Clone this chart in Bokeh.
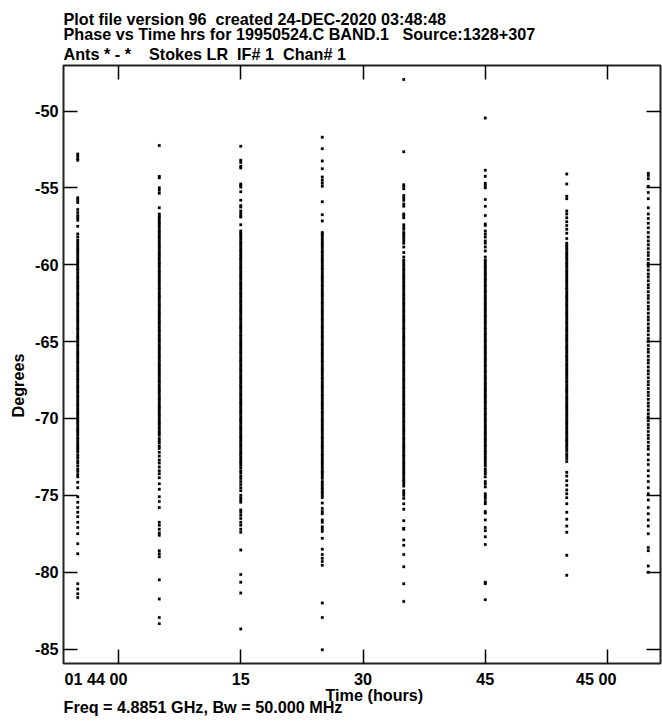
from bokeh.plotting import figure
from bokeh.models import LinearAxis, FixedTicker, Range1d, ColumnDataSource, Title
from bokeh.embed import file_html
from bokeh.resources import INLINE

# ---------------------------------------------------------------------------
# Data: LR phase (degrees) per scan, all baselines; time in seconds after 01:44:00
# ---------------------------------------------------------------------------
scan_times = [-5, 5, 15, 25, 35, 45, 55, 65]

phase_scan1 = [
    -52.8, -52.95, -53.1, -53.2, -55.65, -55.8, -55.95, -56.4, -56.6, -56.8, -56.95, -57.1, -57.5, -58.0, -58.2,
    -58.4, -58.55, -58.7, -58.85, -59.0, -59.1, -59.25, -59.4, -59.55, -59.7, -59.8, -59.95, -60.1, -60.25, -60.35,
    -60.5, -60.65, -60.8, -60.9, -61.05, -61.2, -61.35, -61.45, -61.6, -61.75, -61.9, -62.0, -62.15, -62.3, -62.45,
    -62.55, -62.7, -62.85, -63.0, -63.1, -63.25, -63.4, -63.55, -63.65, -63.8, -63.95, -64.1, -64.2, -64.35, -64.5,
    -64.65, -64.75, -64.9, -65.05, -65.2, -65.3, -65.45, -65.6, -65.75, -65.85, -66.0, -66.15, -66.3, -66.4, -66.55,
    -66.7, -66.85, -66.95, -67.1, -67.25, -67.4, -67.5, -67.65, -67.8, -67.95, -68.05, -68.2, -68.35, -68.5, -68.6,
    -68.75, -68.9, -69.05, -69.15, -69.3, -69.45, -69.6, -69.7, -69.85, -70.0, -70.15, -70.25, -70.4, -70.55, -70.7,
    -70.8, -70.95, -71.1, -71.25, -71.35, -71.5, -71.65, -71.8, -71.9, -72.05, -72.2, -72.4, -72.55, -72.75, -72.9,
    -73.1, -73.3, -73.45, -73.65, -73.8,
    -74.15, -74.5, -75.1, -75.45, -75.8, -76.1, -76.4, -76.75, -77.1, -77.5, -78.15, -78.8,
    -80.75, -81.1, -81.4, -81.65,
]

phase_scan2 = [
    -52.25, -54.25, -54.35, -55.0, -55.15, -55.35, -56.3, -56.7, -56.85, -56.95,
    -57.1, -57.25, -57.35, -57.5, -57.65, -57.8, -57.9, -58.05, -58.2, -58.3, -58.45, -58.6, -58.75, -58.85, -59.0,
    -59.15, -59.3, -59.4, -59.55, -59.7, -59.85, -59.95, -60.1, -60.25, -60.4, -60.5, -60.65, -60.8, -60.95, -61.05,
    -61.2, -61.35, -61.5, -61.6, -61.75, -61.9, -62.05, -62.15, -62.3, -62.45, -62.6, -62.7, -62.85, -63.0, -63.15,
    -63.25, -63.4, -63.55, -63.7, -63.8, -63.95, -64.1, -64.25, -64.35, -64.5, -64.65, -64.8, -64.9, -65.05, -65.2,
    -65.35, -65.45, -65.6, -65.75, -65.9, -66.0, -66.15, -66.3, -66.45, -66.55, -66.7, -66.85, -67.0, -67.1, -67.25,
    -67.4, -67.55, -67.65, -67.8, -67.95, -68.1, -68.2, -68.35, -68.5, -68.65, -68.75, -68.9, -69.05, -69.2, -69.3,
    -69.45, -69.6, -69.75, -69.85, -70.0, -70.15, -70.3, -70.4, -70.55, -70.7, -70.85, -70.95, -71.1, -71.3, -71.45,
    -71.6, -71.8, -71.95,
    -72.2, -72.45, -72.7, -72.9, -73.15, -73.4, -73.6, -73.85, -74.25, -74.6, -75.1, -75.4, -75.8,
    -76.75, -76.95, -77.2, -77.45, -77.6, -78.6, -78.8, -79.0, -80.5, -81.75, -82.95, -83.35,
]

phase_scan3 = [
    -52.3, -53.2, -53.35, -53.6, -53.7, -54.75, -54.85, -54.95, -55.25, -55.8, -56.15, -56.25, -56.5, -56.65, -56.8,
    -56.9, -57.4,
    -57.8, -57.95, -58.05, -58.2, -58.35, -58.5, -58.6, -58.75, -58.9, -59.05, -59.15, -59.3, -59.45, -59.6, -59.7,
    -59.85, -60.0, -60.15, -60.25, -60.4, -60.55, -60.7, -60.8, -60.95, -61.1, -61.25, -61.35, -61.5, -61.65, -61.8,
    -61.9, -62.05, -62.2, -62.35, -62.45, -62.6, -62.75, -62.9, -63.0, -63.15, -63.3, -63.45, -63.55, -63.7, -63.85,
    -64.0, -64.1, -64.25, -64.4, -64.55, -64.65, -64.8, -64.95, -65.1, -65.2, -65.35, -65.5, -65.65, -65.75, -65.9,
    -66.05, -66.2, -66.3, -66.45, -66.6, -66.75, -66.85, -67.0, -67.15, -67.3, -67.4, -67.55, -67.7, -67.85, -67.95,
    -68.1, -68.25, -68.4, -68.5, -68.65, -68.8, -68.95, -69.05, -69.2, -69.35, -69.5, -69.6, -69.75, -69.9, -70.05,
    -70.15, -70.3, -70.45, -70.6, -70.7, -70.85, -71.0, -71.15, -71.25, -71.4, -71.55, -71.7, -71.8, -71.95, -72.1,
    -72.25, -72.35, -72.5, -72.65, -72.8, -72.9, -73.05, -73.2, -73.4, -73.55, -73.75, -73.9, -74.1, -74.3, -74.5,
    -74.7, -75.0, -75.15, -75.3, -75.45, -75.95, -76.1, -76.3, -76.5, -76.75, -76.95, -77.2, -77.4,
    -78.55, -80.15, -80.65, -81.35, -83.7,
]

phase_scan4 = [
    -51.7, -52.45, -53.25, -53.75, -54.3, -54.5, -54.7, -54.9, -55.9, -56.75, -57.15, -57.9,
    -58.0, -58.1, -58.25, -58.4, -58.55, -58.65, -58.8, -58.95, -59.1, -59.2, -59.35, -59.5, -59.65, -59.75, -59.9,
    -60.05, -60.2, -60.3, -60.45, -60.6, -60.75, -60.85, -61.0, -61.15, -61.3, -61.4, -61.55, -61.7, -61.85, -61.95,
    -62.1, -62.25, -62.4, -62.5, -62.65, -62.8, -62.95, -63.05, -63.2, -63.35, -63.5, -63.6, -63.75, -63.9, -64.05,
    -64.15, -64.3, -64.45, -64.6, -64.7, -64.85, -65.0, -65.15, -65.25, -65.4, -65.55, -65.7, -65.8, -65.95, -66.1,
    -66.25, -66.35, -66.5, -66.65, -66.8, -66.9, -67.05, -67.2, -67.35, -67.45, -67.6, -67.75, -67.9, -68.0, -68.15,
    -68.3, -68.45, -68.55, -68.7, -68.85, -69.0, -69.1, -69.25, -69.4, -69.55, -69.65, -69.8, -69.95, -70.1, -70.2,
    -70.35, -70.5, -70.65, -70.75, -70.9, -71.05, -71.2, -71.3, -71.45, -71.6, -71.75, -71.85, -72.0, -72.15, -72.3,
    -72.4, -72.55, -72.7, -72.85, -72.95, -73.1, -73.25, -73.4, -73.5,
    -73.6, -73.75, -73.9, -74.1, -74.2, -74.35, -74.5, -74.6, -74.75, -74.85, -75.0, -75.15, -75.5, -75.85, -76.05,
    -76.2, -76.6, -76.75, -77.05, -77.2, -77.35, -77.8, -78.5, -78.85, -79.1, -79.3, -79.55, -82.0, -82.95, -85.05,
]

phase_scan5 = [
    -47.95, -52.65, -54.8, -54.9, -55.05, -55.5, -55.65, -55.8, -56.05, -56.2, -56.7, -56.8, -56.95, -57.4, -57.55,
    -57.7, -57.9, -58.0, -58.15, -58.3, -58.45, -58.6, -58.85, -59.2, -59.5,
    -59.7, -59.8, -59.95, -60.1, -60.25, -60.35, -60.5, -60.65, -60.8, -60.9, -61.05, -61.2, -61.35, -61.45, -61.6,
    -61.75, -61.9, -62.0, -62.15, -62.3, -62.45, -62.55, -62.7, -62.85, -63.0, -63.1, -63.25, -63.4, -63.55, -63.65,
    -63.8, -63.95, -64.1, -64.2, -64.35, -64.5, -64.65, -64.75, -64.9, -65.05, -65.2, -65.3, -65.45, -65.6, -65.75,
    -65.85, -66.0, -66.15, -66.3, -66.4, -66.55, -66.7, -66.85, -66.95, -67.1, -67.25, -67.4, -67.5, -67.65, -67.8,
    -67.95, -68.05, -68.2, -68.35, -68.5, -68.6, -68.75, -68.9, -69.05, -69.15, -69.3, -69.45, -69.6, -69.7, -69.85,
    -70.0, -70.15, -70.25, -70.4, -70.55, -70.7, -70.8, -70.95, -71.1, -71.25, -71.35, -71.5, -71.65, -71.8, -71.9,
    -72.05, -72.2, -72.35, -72.45, -72.6, -72.75, -72.9, -73.0, -73.15, -73.3, -73.45, -73.55, -73.7, -73.85, -74.0,
    -74.1, -74.25, -74.4,
    -74.7, -74.85, -75.0, -75.2, -75.55, -75.9, -76.65, -77.15, -77.2, -77.9, -78.25, -78.85, -79.65, -80.75, -81.9,
]

phase_scan6 = [
    -50.45, -53.85, -54.25, -54.7, -54.85, -55.0, -55.75, -56.2, -56.8, -57.35, -57.45, -57.8, -58.0, -58.2, -58.45,
    -58.6, -58.85, -59.1, -59.5,
    -59.7, -59.8, -59.95, -60.1, -60.2, -60.35, -60.5, -60.6, -60.75, -60.9, -61.0, -61.15, -61.3, -61.4, -61.55,
    -61.7, -61.8, -61.95, -62.1, -62.2, -62.35, -62.5, -62.6, -62.75, -62.9, -63.0, -63.15, -63.3, -63.4, -63.55,
    -63.7, -63.8, -63.95, -64.1, -64.2, -64.35, -64.5, -64.6, -64.75, -64.9, -65.0, -65.15, -65.3, -65.4, -65.55,
    -65.7, -65.8, -65.95, -66.1, -66.2, -66.35, -66.5, -66.6, -66.75, -66.9, -67.0, -67.15, -67.3, -67.4, -67.55,
    -67.7, -67.8, -67.95, -68.1, -68.2, -68.35, -68.5, -68.6, -68.75, -68.9, -69.0, -69.15, -69.3, -69.4, -69.55,
    -69.7, -69.8, -69.95, -70.1, -70.2, -70.35, -70.5, -70.6, -70.75, -70.9, -71.0, -71.15, -71.3, -71.4, -71.55,
    -71.7, -71.8, -71.95, -72.1, -72.2, -72.35, -72.5, -72.65, -72.8, -72.95, -73.1, -73.3, -73.45, -73.6, -73.8,
    -74.1, -74.25, -74.45, -74.9, -75.05, -75.2, -75.4, -75.55, -76.05, -76.15, -76.6, -77.1, -77.3, -77.7, -78.2,
    -80.65, -80.75, -81.8,
]

phase_scan7 = [
    -54.1, -54.75, -55.55, -55.7, -56.5, -56.7, -56.95, -57.2, -57.45, -57.7, -57.95, -58.3,
    -58.6, -58.75, -58.85, -59.0, -59.15, -59.3, -59.4, -59.55, -59.7, -59.85, -59.95, -60.1, -60.25, -60.4, -60.5,
    -60.65, -60.8, -60.95, -61.05, -61.2, -61.35, -61.5, -61.6, -61.75, -61.9, -62.05, -62.15, -62.3, -62.45, -62.6,
    -62.7, -62.85, -63.0, -63.15, -63.25, -63.4, -63.55, -63.7, -63.8, -63.95, -64.1, -64.25, -64.35, -64.5, -64.65,
    -64.8, -64.9, -65.05, -65.2, -65.35, -65.45, -65.6, -65.75, -65.9, -66.0, -66.15, -66.3, -66.45, -66.55, -66.7,
    -66.85, -67.0, -67.1, -67.25, -67.4, -67.55, -67.65, -67.8, -67.95, -68.1, -68.2, -68.35, -68.5, -68.65, -68.75,
    -68.9, -69.05, -69.2, -69.3, -69.45, -69.6, -69.75, -69.85, -70.0, -70.15, -70.3, -70.4, -70.55, -70.7, -70.85,
    -70.95, -71.1, -71.25, -71.4, -71.5, -71.65, -71.8, -71.95, -72.1, -72.3, -72.45, -72.6, -72.8,
    -73.5, -73.75, -74.05, -74.35, -74.65, -74.9, -75.15, -75.55, -76.1, -76.55, -77.0, -77.4, -78.9, -80.2,
]

phase_scan8 = [
    -54.05, -54.2, -54.4, -54.9, -55.3, -55.7, -56.3, -56.7, -57.0, -57.3, -57.6, -57.9, -58.2, -58.45,
    -58.7, -58.95, -59.2, -59.4, -59.65, -59.9, -60.1, -60.35, -60.6, -60.8, -61.05, -61.3, -61.5, -61.75, -62.0,
    -62.2, -62.45, -62.7, -62.9, -63.15, -63.4, -63.6, -63.85, -64.1, -64.3, -64.55, -64.8, -65.0, -65.25, -65.5,
    -65.7, -65.95, -66.2, -66.4, -66.65, -66.9, -67.1, -67.35, -67.6, -67.8, -68.05, -68.3, -68.5, -68.75, -69.0,
    -69.2, -69.45, -69.7, -69.9, -70.15, -70.4, -70.6, -70.85, -71.1, -71.3, -71.55, -71.8, -72.0,
    -72.35, -72.7, -73.0, -73.4, -73.75, -74.1, -74.5, -74.9, -75.3, -75.8, -76.2, -76.6, -77.0, -77.5,
    -78.4, -78.6, -79.6, -80.0,
]

phase_by_scan = [phase_scan1, phase_scan2, phase_scan3, phase_scan4,
                 phase_scan5, phase_scan6, phase_scan7, phase_scan8]

# Axis ticks and labels (time ticks every 15 s from 01:44:00)
x_ticks = [0, 15, 30, 45, 60]
x_tick_labels = ["01 44 00", "15", "30", "45", "45 00"]
y_ticks = [-50, -55, -60, -65, -70, -75, -80, -85]
y_tick_labels = ["-50", "-55", "-60", "-65", "-70", "-75", "-80", "-85"]

title_lines = [
    "Plot file version 96  created 24-DEC-2020 03:48:48",
    "Phase vs Time hrs for 19950524.C BAND.1   Source:1328+307",
    "Ants * - *    Stokes LR  IF# 1  Chan# 1",
]
x_title = "Time (hours)"
y_title = "Degrees"
footer = "Freq = 4.8851 GHz, Bw = 50.000 MHz"

# ---------------------------------------------------------------------------
# Layout
# ---------------------------------------------------------------------------
W, H = 662, 722
FRAME_LEFT, FRAME_RIGHT, FRAME_TOP, FRAME_BOTTOM = 63, 660, 65, 663
FRAME_W = FRAME_RIGHT - FRAME_LEFT

X_LO, X_HI = -6.75, 66.5
Y_LO, Y_HI = -85.94, -47.04
PX_PER_SEC = FRAME_W / (X_HI - X_LO)

FONT = "Liberation Sans"
FONT_SIZE = "16.2px"
EM = 16.2
# Liberation Sans Bold advance widths (per em) for the characters of the time labels
DIGIT_W, SPACE_W = 0.556, 0.278


def keep_spaces(text):
    """Runs of spaces survive SVG whitespace collapsing as space + no-break spaces."""
    out, prev_space = [], False
    for c in text:
        if c == " " and prev_space:
            out.append("\u00a0")
        else:
            out.append(c)
        prev_space = c == " " or (c == "\u00a0" and prev_space)
    return "".join(out)


xs, ys = [], []
for t, vals in zip(scan_times, phase_by_scan):
    xs.extend([t] * len(vals))
    ys.extend(vals)
src = ColumnDataSource(data=dict(time=xs, phase=ys))

p = figure(
    width=W, height=H,
    x_range=Range1d(X_LO, X_HI), y_range=Range1d(Y_LO, Y_HI),
    output_backend="svg", toolbar_location=None,
    min_border_left=FRAME_LEFT, min_border_right=W - FRAME_RIGHT,
    min_border_top=FRAME_TOP, min_border_bottom=H - FRAME_BOTTOM,
    background_fill_color="white", border_fill_color="white",
)
p.xgrid.visible = False
p.ygrid.visible = False
p.outline_line_color = "#222222"
p.outline_line_width = 2

p.scatter("time", "phase", source=src, marker="square", size=2.5,
          fill_color="black", line_color="black", line_width=0.3)

# extra axes: top and right carry inward ticks only; a second bottom axis
# carries the time labels, each centred on the seconds field of its tick
top_ax = LinearAxis()
right_ax = LinearAxis()
label_ax = LinearAxis()
p.add_layout(top_ax, "above")
p.add_layout(right_ax, "right")
tick_ax = p.below[0]
p.add_layout(label_ax, "below")

for ax in p.axis:
    ax.major_tick_in = 14
    ax.major_tick_out = 0
    ax.minor_tick_line_color = None
    ax.major_tick_line_color = "black"
    ax.major_tick_line_width = 1.5
    ax.axis_line_color = None
    ax.major_label_text_font = FONT
    ax.major_label_text_font_style = "bold"
    ax.major_label_text_font_size = FONT_SIZE
    ax.major_label_text_color = "black"

for ax in (tick_ax, top_ax):
    ax.ticker = FixedTicker(ticks=x_ticks)
    ax.major_label_overrides = {t: "" for t in x_ticks}
for ax in p.yaxis:
    ax.ticker = FixedTicker(ticks=y_ticks)
right_ax.major_label_overrides = {t: "" for t in y_ticks}


def label_width(text):
    return sum(SPACE_W if c == " " else DIGIT_W for c in text) * EM


label_pos = []
for t, lab in zip(x_ticks, x_tick_labels):
    shift_px = (label_width(lab) - label_width(lab[-2:])) / 2
    label_pos.append(t - shift_px / PX_PER_SEC)
label_ax.ticker = FixedTicker(ticks=label_pos)
label_ax.major_label_overrides = dict(zip(label_pos, x_tick_labels))
label_ax.major_tick_in = 0
label_ax.major_tick_line_color = None
label_ax.major_label_standoff = 6

left = p.left[0]
left.major_label_standoff = 5
left.major_label_overrides = dict(zip(y_ticks, y_tick_labels))


def make_title(text, standoff=0, offset=0):
    return Title(text=keep_spaces(text), align="left", offset=offset, standoff=standoff,
                 text_font=FONT, text_font_style="bold", text_font_size=FONT_SIZE,
                 text_color="black")


# vertical axis title, set a little below the middle of the frame
p.add_layout(make_title(y_title, standoff=12, offset=246), "left")

# titles stack outward from the frame: last line first
p.add_layout(make_title(title_lines[2], standoff=6), "above")
p.add_layout(make_title(title_lines[1], standoff=-7), "above")
p.add_layout(make_title(title_lines[0], standoff=-3), "above")

# axis title and frequency note below the time labels
p.add_layout(make_title(x_title, standoff=-14, offset=262), "below")
p.add_layout(make_title(footer, standoff=-2), "below")

open("out.html", "w").write(file_html(p, INLINE))
